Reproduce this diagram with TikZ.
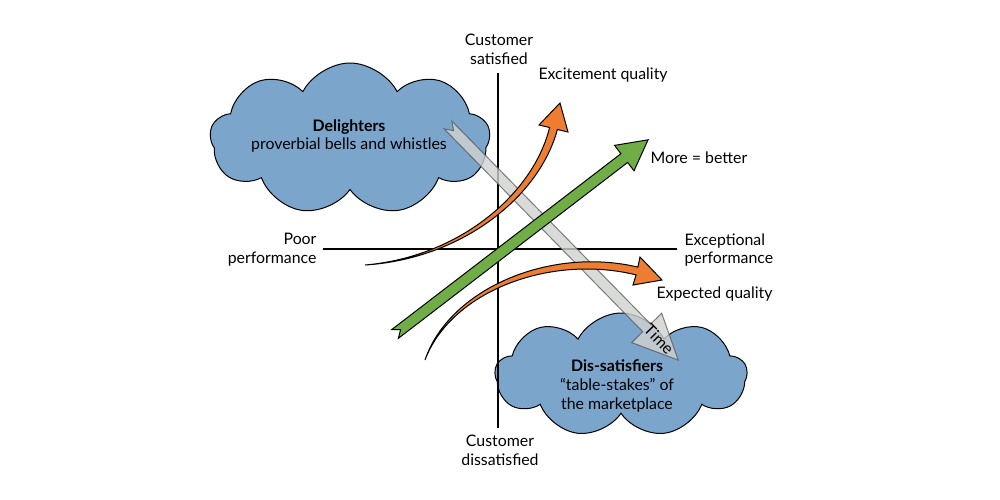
\documentclass[tikz,border=0pt]{standalone}
\usepackage{fontspec}
\setmainfont{Lato}
\usepackage{tikz}
\usetikzlibrary{shapes.symbols}
\definecolor{cloudblue}{RGB}{124,165,204}
\definecolor{arroworange}{RGB}{237,125,49}
\definecolor{arrowgreen}{RGB}{112,173,71}
\definecolor{timegray}{RGB}{208,210,208}
\tikzset{every picture/.style={line width=0.75pt},
  axis line/.style={line width=1.5pt},
  quality cloud/.style={cloud, cloud puffs=9, cloud puff arc=125, aspect=1.8, draw, fill=cloudblue, inner sep=0pt},
  label text/.style={inner sep=0.75pt, font=\fontsize{11.9}{14}\selectfont}
}

\begin{document}
\begin{tikzpicture}[x=0.75pt,y=0.75pt,yscale=-1,xscale=1]
	\useasboundingbox (0,0) rectangle (1000,500);
	
	%Shape: Cloud [delighters]
	\node[quality cloud, minimum width=210pt, minimum height=114pt] (delightcloud) at (350,139) {};
	%Shape: Cloud [dis-satisfiers]
	\node[quality cloud, minimum width=189pt, minimum height=93pt] (dissatcloud) at (621,375) {};
	
	%Straight Lines [axes]
	\coordinate (satisfied) at (498,73);
	\coordinate (dissatisfied) at (498,428);
	\coordinate (poor) at (323,249);
	\coordinate (exceptional) at (677,249);
	\draw [axis line] (satisfied) -- (dissatisfied) ;
	\draw [axis line] (poor) -- (exceptional) ;
	
	%Shape: Arrow [time]
	\begin{scope}[shift={(448,125)}, rotate=45.6]
		\draw [color=black!70, draw opacity=0.7, fill=timegray, fill opacity=0.8] (0,5.5) -- (284,5.5) -- (284,21) -- (329,0) -- (284,-21) -- (284,-5.5) -- (0,-5.5) -- (8,0) -- cycle ;
	\end{scope}
	
	%Curve Lines [excitement quality]
	\draw [fill=arroworange] (365,265) .. controls (459.5,256.9) and (533.2,194) .. (549.6,127.5) -- (539,125) -- (560,103) -- (568,132) -- (557.4,129.5) .. controls (538.8,198) and (460.5,259.1) .. (365,265) -- cycle ;
	%Curve Lines [expected quality]
	\draw [fill=arroworange] (425,360) .. controls (449,288.9) and (549.6,246.2) .. (637.9,267.1) -- (640,257) -- (662,280) -- (633,285) -- (636.1,274.9) .. controls (550.4,253.8) and (451,291.1) .. (425,360) -- cycle ;
	
	%Shape: Arrow [more = better]
	\begin{scope}[shift={(395,334)}, rotate=-37.5]
		\draw [fill=arrowgreen] (0,5.5) -- (289,5.5) -- (289,16) -- (319,0) -- (289,-16) -- (289,-5.5) -- (0,-5.5) -- (7,0) -- cycle ;
	\end{scope}
	
	% Text Node
	\node [label text, align=center] (custsat) at (499,49) {Customer\\satisfied};
	% Text Node
	\node [label text, align=center] (custdissat) at (500,450) {Customer\\dissatisfied};
	% Text Node
	\node [label text, align=right, anchor=east] (poorlabel) at (318,250) {Poor\\performance};
	% Text Node
	\node [label text, align=left, anchor=west] (exceptlabel) at (683,250) {Exceptional\\performance};
	% Text Node
	\node [label text, anchor=west] (excitelabel) at (537,75) {Excitement quality};
	% Text Node
	\node [label text, anchor=west] (morelabel) at (649,158) {More = better};
	% Text Node
	\node [label text, anchor=west] (expectlabel) at (655,294) {Expected quality};
	% Text Node
	\node [label text, align=center] (delighttext) at (349,136) {\textbf{Delighters}\\proverbial bells and whistles};
	% Text Node
	\node [label text, align=center] (dissattext) at (617,386) {\textbf{Dis-satisfiers}\\“table-stakes” of\\the marketplace};
	% Text Node
	\node [label text, inner sep=0pt, rotate=-45.6] (timelabel) at (659,339) {Time};
	
\end{tikzpicture}
\end{document}
